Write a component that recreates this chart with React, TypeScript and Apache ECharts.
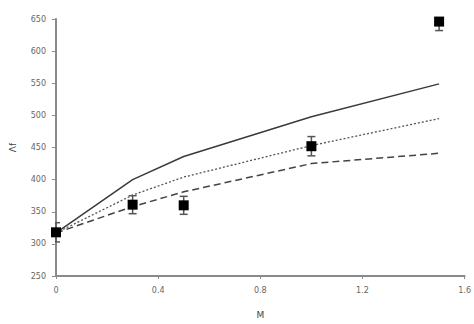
import React, { useEffect, useRef } from "react";
import * as echarts from "echarts";

const xValues = [0, 0.3, 0.5, 1.0, 1.5];
const measured = [318, 361, 360, 452, 646];
const errors = [15, 14, 14, 15, 14];
const solidLine = [317, 400, 436, 498, 549];
const dottedLine = [317, 376, 404, 453, 495];
const dashedLine = [317, 358, 381, 425, 441];
const xTicks = [0, 0.4, 0.8, 1.2, 1.6];
const yMin = 250;
const yMax = 650;

export default function App() {
  const ref = useRef<HTMLDivElement>(null);
  useEffect(() => {
    if (!ref.current) return;
    const chart = echarts.init(ref.current, null, { renderer: "svg" });
    const pairs = (ys: number[]) => xValues.map((x, i) => [x, ys[i]]);
    const lineSeries = (ys: number[], type: any, color: string, width: number) => ({
      type: "line",
      data: pairs(ys),
      symbol: "none",
      lineStyle: { color, width, type },
      z: 2,
    });
    chart.setOption({
      animation: false,
      backgroundColor: "#ffffff",
      grid: { left: 54, right: 4, top: 19, bottom: 42 },
      xAxis: {
        type: "value",
        min: 0,
        max: 1.6,
        interval: 0.4,
        name: "M",
        nameLocation: "middle",
        nameGap: 34,
        nameTextStyle: { color: "#444", fontSize: 9, fontFamily: "DejaVu Sans" },
        axisLine: { lineStyle: { color: "#8a8a8a", width: 2 } },
        axisTick: { show: true, inside: false, length: 3, lineStyle: { color: "#8a8a8a" } },
        axisLabel: {
          color: "#666",
          fontSize: 8,
          fontFamily: "DejaVu Sans",
          margin: 10,
          formatter: (v: number) => (xTicks.some((t) => Math.abs(t - v) < 1e-9) ? String(+v.toFixed(1)) : ""),
        },
        splitLine: { show: false },
      },
      yAxis: {
        type: "value",
        min: yMin,
        max: yMax,
        interval: 50,
        name: "Λf",
        nameLocation: "middle",
        nameGap: 39,
        nameRotate: 90,
        nameTextStyle: { color: "#444", fontSize: 9, fontFamily: "DejaVu Sans" },
        axisLine: { show: true, lineStyle: { color: "#8a8a8a", width: 2 } },
        axisTick: { show: true, inside: false, length: 4, lineStyle: { color: "#8a8a8a" } },
        axisLabel: { color: "#666", fontSize: 8, fontFamily: "DejaVu Sans", margin: 10 },
        splitLine: { show: false },
      },
      series: [
        lineSeries(solidLine, "solid", "#3a3a3a", 1.5),
        lineSeries(dottedLine, [2, 2], "#555555", 1.3),
        lineSeries(dashedLine, [7, 4], "#444444", 1.5),
        {
          type: "custom",
          clip: true,
          z: 3,
          data: xValues.map((x, i) => [x, measured[i], errors[i]]),
          renderItem: (params: any, api: any) => {
            const x = api.value(0);
            const y = api.value(1);
            const e = api.value(2);
            const top = api.coord([x, Math.min(y + e, yMax)]);
            const bot = api.coord([x, y - e]);
            const showTop = y + e <= yMax;
            const cap = 4;
            const style = { stroke: "#555", lineWidth: 1.5 };
            const children: any[] = [
              { type: "line", shape: { x1: top[0], y1: top[1], x2: bot[0], y2: bot[1] }, style },
              { type: "line", shape: { x1: bot[0] - cap, y1: bot[1], x2: bot[0] + cap, y2: bot[1] }, style },
            ];
            if (showTop) {
              children.push({ type: "line", shape: { x1: top[0] - cap, y1: top[1], x2: top[0] + cap, y2: top[1] }, style });
            }
            return { type: "group", children };
          },
        },
        {
          type: "scatter",
          data: pairs(measured),
          symbol: "rect",
          symbolSize: 10,
          itemStyle: { color: "#000000", opacity: 1 },
          z: 4,
        },
      ],
    });
    return () => chart.dispose();
  }, []);
  return <div ref={ref} style={{ width: 474, height: 324, position: "absolute", left: 0, top: 0 }} />;
}
